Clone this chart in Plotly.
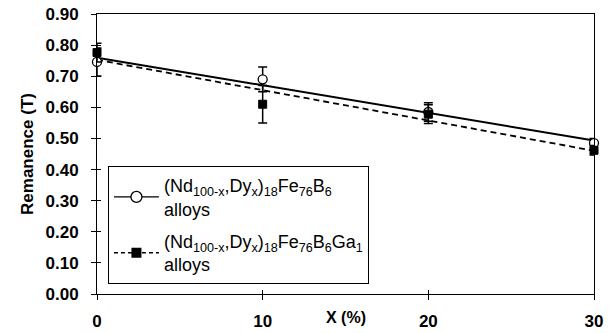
import numpy as np
import plotly.graph_objects as go

# Data
x_vals = [0, 10, 20, 30]
remanence_ga0 = [0.746, 0.690, 0.585, 0.485]
err_ga0 = [0.045, 0.040, 0.030, 0.015]
remanence_ga1 = [0.776, 0.610, 0.578, 0.462]
err_ga1 = [0.030, 0.060, 0.030, 0.015]
y_ticks = [0.0, 0.1, 0.2, 0.3, 0.4, 0.5, 0.6, 0.7, 0.8, 0.9]
x_ticks = [0, 10, 20, 30]
name_ga0 = "(Nd<sub>100-x</sub>,Dy<sub>x</sub>)<sub>18</sub>Fe<sub>76</sub>B<sub>6</sub><br>alloys"
name_ga1 = "(Nd<sub>100-x</sub>,Dy<sub>x</sub>)<sub>18</sub>Fe<sub>76</sub>B<sub>6</sub>Ga<sub>1</sub><br>alloys"

FONT = "Arial, Liberation Sans, Helvetica, sans-serif"

# linear fits
xs = np.array(x_vals, dtype=float)
fit0 = np.polyfit(xs, remanence_ga0, 1)
fit1 = np.polyfit(xs, remanence_ga1, 1)
xfit = np.array([0.0, 30.0])

fig = go.Figure()

# Trend lines
fig.add_trace(go.Scatter(x=xfit, y=np.polyval(fit0, xfit), mode="lines",
                         line=dict(color="black", width=2), showlegend=False,
                         hoverinfo="skip", cliponaxis=False))
fig.add_trace(go.Scatter(x=xfit, y=np.polyval(fit1, xfit), mode="lines",
                         line=dict(color="black", width=1.8, dash="6px,4px"),
                         showlegend=False, hoverinfo="skip", cliponaxis=False))

# Data points with error bars
fig.add_trace(go.Scatter(x=x_vals, y=remanence_ga0, mode="markers",
                         marker=dict(symbol="circle", size=9, color="white",
                                     line=dict(color="black", width=1.3)),
                         error_y=dict(type="data", array=err_ga0, color="black",
                                      thickness=1.5, width=4.5),
                         showlegend=False, cliponaxis=False))
fig.add_trace(go.Scatter(x=x_vals, y=remanence_ga1, mode="markers",
                         marker=dict(symbol="square", size=8, color="black",
                                     line=dict(color="black", width=1)),
                         error_y=dict(type="data", array=err_ga1, color="black",
                                      thickness=1.5, width=4.5),
                         showlegend=False, cliponaxis=False))

# Legend entries
fig.add_trace(go.Scatter(x=[None], y=[None], mode="lines+markers", name=name_ga0,
                         legendgroup="a",
                         line=dict(color="black", width=1.3),
                         marker=dict(symbol="circle", size=11, color="white",
                                     line=dict(color="black", width=1.3))))
fig.add_trace(go.Scatter(x=[None], y=[None], mode="lines+markers", name=name_ga1,
                         legendgroup="b",
                         line=dict(color="black", width=1.3, dash="4px,3px"),
                         marker=dict(symbol="square", size=10, color="black")))

# overlay axes for crossing ticks
fig.add_trace(go.Scatter(x=[None], y=[None], xaxis="x2", yaxis="y2",
                         showlegend=False, hoverinfo="skip"))

fig.update_layout(
    width=614, height=333,
    margin=dict(l=97, r=20, t=14, b=39),
    paper_bgcolor="white", plot_bgcolor="white",
    font=dict(family=FONT, color="black"),
    showlegend=True,
    legend=dict(x=0.022, y=0.457, xanchor="left", yanchor="top",
                bordercolor="black", borderwidth=1, bgcolor="white",
                font=dict(family=FONT, size=18, color="black"),
                traceorder="grouped", tracegroupgap=6, itemwidth=45),
    xaxis=dict(range=[0, 30], tickvals=x_ticks, ticks="outside", ticklen=5,
               tickwidth=1, tickcolor="black", showline=True, linecolor="black",
               linewidth=1, mirror=True, showgrid=False, zeroline=False,
               automargin=False,
               tickfont=dict(family=FONT, size=17, color="black", weight="bold"),
               ticklabelstandoff=7),
    yaxis=dict(range=[0, 0.9], tickvals=y_ticks, tickformat=".2f", ticks="outside",
               ticklen=5, tickwidth=1, tickcolor="black", showline=True,
               linecolor="black", linewidth=1, mirror=True, showgrid=False,
               zeroline=False, automargin=False,
               tickfont=dict(family=FONT, size=17, color="black", weight="bold"),
               ticklabelstandoff=9,
               title=dict(text="Remanence (T)", standoff=7,
                          font=dict(family=FONT, size=17, color="black", weight="bold"))),
    xaxis2=dict(range=[0, 30], tickvals=x_ticks, ticks="inside", ticklen=4,
                tickwidth=1, tickcolor="black", showticklabels=False,
                overlaying="x", anchor="y2", showgrid=False, zeroline=False,
                showline=False, automargin=False),
    yaxis2=dict(range=[0, 0.9], tickvals=y_ticks, ticks="inside", ticklen=4,
                tickwidth=1, tickcolor="black", showticklabels=False,
                overlaying="y", anchor="x2", side="left", showgrid=False,
                zeroline=False, showline=False, automargin=False),
    annotations=[dict(text="<b>X (%)</b>", x=0.5, y=-0.085, xref="paper",
                      yref="paper", xanchor="center", yanchor="middle",
                      showarrow=False,
                      font=dict(family=FONT, size=16, color="black"))],
)

fig.write_html("out.html")
